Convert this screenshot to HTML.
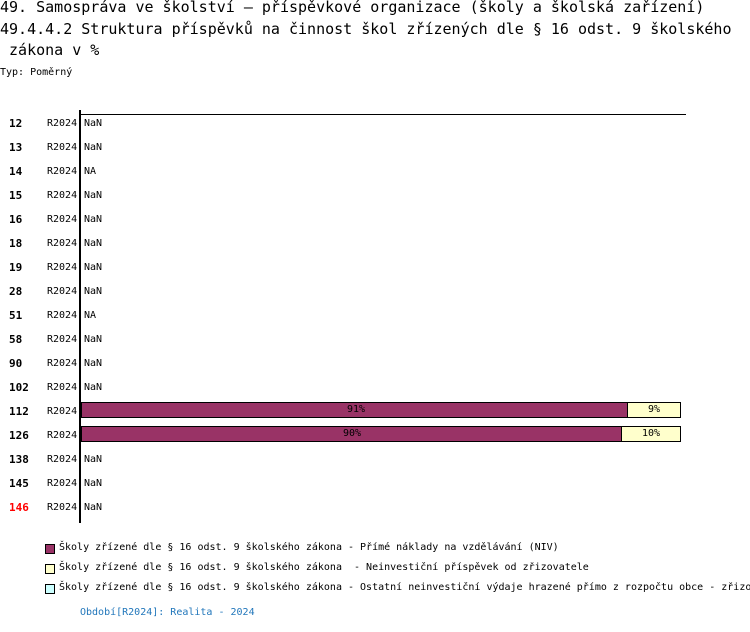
<!DOCTYPE html>
<html><head><meta charset="utf-8"><style>
body{margin:0;width:750px;height:632px;background:#fff;position:relative;overflow:hidden;font-family:"DejaVu Sans Mono","Liberation Mono",monospace;}
.t{position:absolute;white-space:nowrap;}
.h{font-size:15px;left:0;}
.s{font-size:10px;}
.n{font-weight:bold;font-size:11px;left:9px;}
.r{left:47px;font-size:10px;}
.v{left:84px;font-size:10px;}
.bar{position:absolute;border:1px solid #000;box-sizing:border-box;height:16px;font-size:10px;text-align:center;line-height:14px;}
.lb{position:absolute;left:45px;width:8px;height:8px;border:1px solid #000;}
</style></head><body>
<div class="t h" style="top:-2px">49. Samospráva ve školství – příspěvkové organizace (školy a školská zařízení)</div>
<div class="t h" style="top:20px">49.4.4.2 Struktura příspěvků na činnost škol zřízených dle § 16 odst. 9 školského</div>
<div class="t h" style="top:41px">&nbsp;zákona v %</div>
<div class="t s" style="top:67px;left:0">Typ: Poměrný</div>
<div style="position:absolute;left:80px;top:114px;width:606px;height:1px;background:#000"></div>
<div style="position:absolute;left:79px;top:110px;width:2px;height:413px;background:#000"></div>
<div id="rows"></div>
<div class="bar" style="left:81px;top:402px;width:547px;background:#993366;text-align:right;padding-right:262px">91%</div>
<div class="bar" style="left:627px;top:402px;width:54px;background:#ffffcc">9%</div>
<div class="bar" style="left:81px;top:426px;width:541px;background:#993366;text-align:right;padding-right:260px">90%</div>
<div class="bar" style="left:621px;top:426px;width:60px;background:#ffffcc">10%</div>
<div class="lb" style="top:544px;background:#993366"></div>
<div class="lb" style="top:564px;background:#ffffcc"></div>
<div class="lb" style="top:584px;background:#ccffff"></div>
<div class="t s" style="left:59px;top:542px">Školy zřízené dle § 16 odst. 9 školského zákona - Přímé náklady na vzdělávání (NIV)</div>
<div class="t s" style="left:59px;top:562px">Školy zřízené dle § 16 odst. 9 školského zákona&nbsp; - Neinvestiční příspěvek od zřizovatele</div>
<div class="t s" style="left:59px;top:582px">Školy zřízené dle § 16 odst. 9 školského zákona - Ostatní neinvestiční výdaje hrazené přímo z rozpočtu obce - zřizovatele</div>
<div class="t s" style="left:80px;top:607px;color:#2277bb">Období[R2024]: Realita - 2024</div>
<script>
var d=[["12","NaN"],["13","NaN"],["14","NA"],["15","NaN"],["16","NaN"],["18","NaN"],["19","NaN"],["28","NaN"],["51","NA"],["58","NaN"],["90","NaN"],["102","NaN"],["112",""],["126",""],["138","NaN"],["145","NaN"],["146","NaN"]];
var h="";d.forEach(function(r,i){var y=117+i*24;
h+='<div class="t n" style="top:'+y+'px;'+(r[0]=="146"?'color:#f00':'')+'">'+r[0]+'</div><div class="t r" style="top:'+(y+1)+'px">R2024</div>'+(r[1]?'<div class="t v" style="top:'+(y+1)+'px">'+r[1]+'</div>':'');});
document.getElementById("rows").innerHTML=h;
</script>
</body></html>
